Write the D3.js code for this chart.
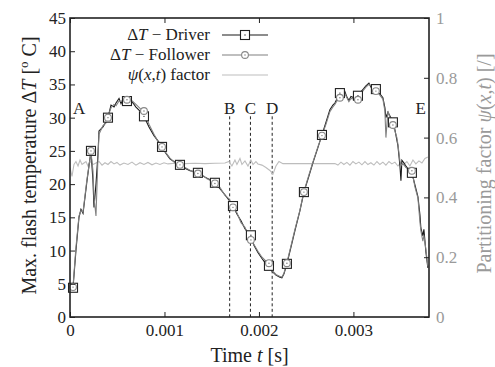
<!DOCTYPE html>
<html><head><meta charset="utf-8">
<script src="https://cdn.jsdelivr.net/npm/d3@7/dist/d3.min.js"></script>
<style>
html,body{margin:0;padding:0;background:#fff;}
svg{display:block;}
text{font-family:"Liberation Serif","DejaVu Serif",serif;}
</style></head>
<body>
<svg id="chart" width="495" height="367"></svg>
<script>
// ---------- DATA ----------
// dense time grid (milliseconds) shared by driver & follower curves
const curveTimeMs = [0.032,0.063,0.095,0.116,0.138,0.180,0.222,0.243,0.254,0.275,0.296,0.307,0.349,0.381,0.402,0.434,0.466,0.487,0.519,0.540,0.571,0.603,0.624,0.667,0.698,0.741,0.783,0.836,0.889,0.931,0.974,1.016,1.058,1.111,1.164,1.217,1.270,1.312,1.354,1.407,1.450,1.492,1.534,1.587,1.640,1.683,1.725,1.767,1.810,1.852,1.884,1.915,1.947,1.989,2.032,2.074,2.106,2.138,2.180,2.222,2.243,2.265,2.296,2.339,2.381,2.434,2.476,2.529,2.571,2.624,2.667,2.709,2.751,2.783,2.804,2.825,2.857,2.889,2.910,2.931,2.952,2.974,3.005,3.048,3.079,3.111,3.132,3.164,3.185,3.217,3.249,3.280,3.312,3.333,3.344,3.365,3.397,3.418,3.439,3.460,3.471,3.481,3.492,3.503,3.513,3.534,3.556,3.587,3.619,3.651,3.683,3.704,3.714,3.735,3.746,3.767,3.788];
const driverT = [4.4,10.0,15.0,16.2,15.6,20.5,25.0,20.5,16.5,20.0,24.5,28.0,28.6,29.4,30.0,31.9,31.6,32.2,32.9,32.1,33.0,32.5,32.8,32.2,31.6,31.0,30.2,28.6,27.3,26.5,25.6,24.6,23.8,23.3,22.9,22.4,22.0,21.9,21.7,21.2,20.9,20.6,20.2,19.3,18.4,17.6,16.7,15.5,14.5,13.3,12.7,12.2,10.8,9.7,8.8,8.0,7.7,6.9,6.3,6.0,5.9,6.5,8.0,10.5,13.0,16.0,18.8,21.2,23.2,25.5,27.4,29.3,31.2,31.9,32.2,32.8,33.7,33.5,33.9,33.1,32.6,33.2,33.0,33.3,33.9,34.4,34.8,35.2,34.6,34.3,34.2,33.6,33.0,31.5,30.0,30.8,30.0,29.3,28.2,26.6,25.8,24.4,22.8,20.5,23.6,23.2,22.7,22.1,21.7,19.9,18.1,15.4,13.4,12.2,13.2,9.8,7.4];
const followerT = [4.6,10.5,15.2,16.0,15.8,20.8,24.8,22.0,18.0,15.2,24.0,27.5,28.8,29.2,30.2,31.5,32.0,31.8,32.5,32.4,32.8,32.7,32.9,32.4,32.0,31.4,31.0,29.0,27.5,26.4,25.5,24.7,23.9,23.2,22.8,22.5,22.1,21.8,21.6,21.3,20.8,20.5,20.1,19.5,18.3,17.8,16.4,15.7,14.2,13.5,12.4,11.6,10.9,9.9,9.0,8.4,8.1,7.0,6.4,6.1,6.0,6.6,8.2,10.7,13.2,16.1,18.9,21.4,23.3,25.6,27.3,29.0,30.9,31.6,32.0,32.5,33.0,33.4,33.6,33.0,32.4,32.9,32.8,32.7,33.6,34.2,34.6,35.0,34.8,34.1,34.0,33.4,32.8,31.0,27.0,31.0,29.6,28.9,28.0,27.0,26.0,24.8,23.5,22.8,23.0,22.9,22.5,22.3,22.0,19.6,17.9,14.3,13.0,11.4,12.3,10.2,7.6];

// marker samples
const markerTimeMs = [0.032,0.222,0.402,0.603,0.783,0.974,1.164,1.354,1.534,1.725,1.915,2.106,2.296,2.476,2.667,2.857,3.048,3.238,3.418,3.619];
const driverMarkers = [4.4,25.0,30.0,32.5,30.2,25.6,22.9,21.7,20.2,16.7,12.3,7.7,8.0,18.8,27.4,33.7,33.3,34.3,29.3,21.7];
const followerMarkers = [4.5,25.0,30.0,32.7,31.0,25.6,22.9,21.6,20.1,16.5,11.6,8.1,8.1,18.8,27.3,33.0,32.7,34.0,28.9,22.0];

// partitioning factor psi(x,t)
const psiTimeMs = [0.000,0.021,0.042,0.063,0.085,0.106,0.127,0.148,0.169,0.190,0.212,0.243,0.275,0.307,0.339,0.370,0.402,0.434,0.466,0.497,0.529,0.571,0.614,0.656,0.698,0.741,0.783,0.825,0.868,0.910,0.952,0.995,1.037,1.111,1.217,1.323,1.429,1.534,1.640,1.683,1.714,1.746,1.767,1.799,1.820,1.852,1.884,1.915,1.937,1.968,1.989,2.032,2.074,2.116,2.148,2.180,2.212,2.254,2.381,2.540,2.698,2.804,2.836,2.868,2.899,2.931,2.963,2.995,3.026,3.058,3.090,3.122,3.153,3.185,3.217,3.249,3.280,3.312,3.344,3.376,3.407,3.439,3.471,3.503,3.534,3.566,3.598,3.630,3.661,3.693,3.725,3.757,3.788];
const psiValues = [0.50,0.47,0.51,0.52,0.505,0.525,0.51,0.515,0.52,0.505,0.52,0.51,0.515,0.52,0.508,0.516,0.51,0.52,0.512,0.517,0.508,0.515,0.51,0.518,0.508,0.516,0.51,0.517,0.509,0.515,0.51,0.516,0.512,0.514,0.513,0.514,0.513,0.514,0.515,0.52,0.505,0.525,0.51,0.53,0.51,0.522,0.505,0.525,0.51,0.52,0.512,0.508,0.50,0.49,0.478,0.505,0.52,0.513,0.513,0.513,0.513,0.513,0.508,0.518,0.51,0.517,0.508,0.52,0.512,0.518,0.509,0.52,0.51,0.516,0.508,0.52,0.51,0.518,0.508,0.52,0.512,0.518,0.505,0.515,0.51,0.52,0.505,0.525,0.512,0.522,0.515,0.53,0.535];

// event markers
const eventLabels = ["B","C","D"];
const eventTimes = [0.00169,0.00191,0.00214];
const cornerLabels = ["A","E"];

// axes
const xTicks = [0,0.001,0.002,0.003];
const xTickLabels = ["0","0.001","0.002","0.003"];
const yLeftTicks = [0,5,10,15,20,25,30,35,40,45];
const yRightTicks = [0,0.2,0.4,0.6,0.8,1];
const yRightTickLabels = ["0","0.2","0.4","0.6","0.8","1"];

// ---------- CHART ----------
const svg = d3.select("#chart");
const L = 70, R = 429, T = 18, B = 317;
const x = d3.scaleLinear().domain([0,0.0038]).range([L,R]);
const yL = d3.scaleLinear().domain([0,45]).range([B,T]);
const yR = d3.scaleLinear().domain([0,1]).range([B,T]);
const FS = 17, TFS = 20;

const toPts = (tms, vals) => tms.map((t,i)=>[t/1000, vals[i]]);
const driverPts = toPts(curveTimeMs, driverT);
const followerPts = toPts(curveTimeMs, followerT);
const psiPts = toPts(psiTimeMs, psiValues);

svg.append("clipPath").attr("id","pc").append("rect")
  .attr("x",L).attr("y",T).attr("width",R-L).attr("height",B-T);

const plot = svg.append("g").attr("clip-path","url(#pc)");

// dashed event lines
plot.selectAll(".ev").data(eventTimes).enter().append("line")
  .attr("x1",d=>x(d)).attr("x2",d=>x(d))
  .attr("y1",yL(30.2)).attr("y2",B)
  .attr("stroke","#222").attr("stroke-width",1).attr("stroke-dasharray","3,2.5");

// psi line
plot.append("path").datum(psiPts)
  .attr("d", d3.line().x(d=>x(d[0])).y(d=>yR(d[1])))
  .attr("fill","none").attr("stroke","#bdbdbd").attr("stroke-width",1.1);

// driver line
plot.append("path").datum(driverPts)
  .attr("d", d3.line().x(d=>x(d[0])).y(d=>yL(d[1])))
  .attr("fill","none").attr("stroke","#1a1a1a").attr("stroke-width",1.1);

// follower line
plot.append("path").datum(followerPts)
  .attr("d", d3.line().x(d=>x(d[0])).y(d=>yL(d[1])))
  .attr("fill","none").attr("stroke","#808080").attr("stroke-width",1.1);

// markers
const SQ = 9;
function square(g, cx, cy){
  g.append("rect").attr("x",cx-SQ/2).attr("y",cy-SQ/2).attr("width",SQ).attr("height",SQ)
    .attr("fill","#fff").attr("stroke","#222").attr("stroke-width",1.1);
  g.append("circle").attr("cx",cx).attr("cy",cy).attr("r",0.7).attr("fill","#333");
}
function circ(g, cx, cy){
  g.append("circle").attr("cx",cx).attr("cy",cy).attr("r",3.4)
    .attr("fill","#fff").attr("stroke","#888").attr("stroke-width",1.1);
  g.append("circle").attr("cx",cx).attr("cy",cy).attr("r",0.7).attr("fill","#777");
}
const mg = svg.append("g");
markerTimeMs.forEach((t,i)=>square(mg, x(t/1000), yL(driverMarkers[i])));
markerTimeMs.forEach((t,i)=>circ(mg, x(t/1000), yL(followerMarkers[i])));

// frame
svg.append("rect").attr("x",L).attr("y",T).attr("width",R-L).attr("height",B-T)
  .attr("fill","none").attr("stroke","#222").attr("stroke-width",1.6);

// axes
function styleAxis(g, color){
  g.select(".domain").remove();
  g.selectAll(".tick line").attr("stroke","#222").attr("stroke-width",1);
  g.selectAll(".tick text").attr("fill",color).style("font-size",FS+"px")
    .style("font-family","'Liberation Serif',serif");
}
const axB = svg.append("g").attr("transform",`translate(0,${B})`)
  .call(d3.axisBottom(x).tickValues(xTicks).tickFormat((d,i)=>xTickLabels[i]).tickSizeInner(-5).tickSizeOuter(0).tickPadding(7));
styleAxis(axB,"#222");
const axT = svg.append("g").attr("transform",`translate(0,${T})`)
  .call(d3.axisTop(x).tickValues(xTicks).tickFormat("").tickSizeInner(-5).tickSizeOuter(0));
styleAxis(axT,"#222");
const axL = svg.append("g").attr("transform",`translate(${L},0)`)
  .call(d3.axisLeft(yL).tickValues(yLeftTicks).tickFormat(d3.format("d")).tickSizeInner(-5).tickSizeOuter(0).tickPadding(4));
styleAxis(axL,"#222");
const axR = svg.append("g").attr("transform",`translate(${R},0)`)
  .call(d3.axisRight(yR).tickValues(yRightTicks).tickFormat((d,i)=>yRightTickLabels[i]).tickSizeInner(-5).tickSizeOuter(0).tickPadding(7));
styleAxis(axR,"#9a9a9a");

// axis titles
const xt = svg.append("text").attr("x",(L+R)/2).attr("y",362).attr("text-anchor","middle")
  .style("font-size",TFS+"px").attr("fill","#222");
xt.append("tspan").text("Time ");
xt.append("tspan").attr("font-style","italic").text("t");
xt.append("tspan").text(" [s]");

const ylt = svg.append("text").attr("transform",`translate(36,${(T+B)/2-2}) rotate(-90)`)
  .attr("text-anchor","middle").style("font-size",TFS+"px").attr("fill","#222");
ylt.append("tspan").text("Max. flash temperature Δ");
ylt.append("tspan").attr("font-style","italic").text("T");
ylt.append("tspan").text(" [");
ylt.append("tspan").attr("dy",-8).style("font-size","13px").text("o");
ylt.append("tspan").attr("dy",8).text(" C]");

const yrt = svg.append("text").attr("transform",`translate(491,${(T+B)/2-4}) rotate(-90)`)
  .attr("text-anchor","middle").style("font-size",TFS+"px").attr("fill","#9a9a9a");
yrt.append("tspan").text("Partitioning factor  ");
yrt.append("tspan").attr("font-style","italic").text("ψ");
yrt.append("tspan").text("(");
yrt.append("tspan").attr("font-style","italic").text("x");
yrt.append("tspan").text(",");
yrt.append("tspan").attr("font-style","italic").text("t");
yrt.append("tspan").text(") [/]");

// event labels
svg.selectAll(".evl").data(eventTimes).enter().append("text")
  .attr("x",d=>x(d)).attr("y",114).attr("text-anchor","middle")
  .style("font-size",FS+"px").attr("fill","#222").text((d,i)=>eventLabels[i]);
svg.append("text").attr("x",73).attr("y",114).style("font-size",FS+"px").attr("fill","#222").text(cornerLabels[0]);
svg.append("text").attr("x",426).attr("y",114).attr("text-anchor","end").style("font-size",FS+"px").attr("fill","#222").text(cornerLabels[1]);

// legend
const legX = 210, lx1 = 222, lx2 = 268, lxm = 245;
const rows = [35,55,75];
function legText(y, parts){
  const t = svg.append("text").attr("x",legX).attr("y",y+5).attr("text-anchor","end")
    .style("font-size",FS+"px").attr("fill","#222");
  parts.forEach(p=>t.append("tspan").attr("font-style",p[1]?"italic":"normal").text(p[0]));
}
legText(rows[0], [["Δ",0],["T",1],[" − Driver",0]]);
legText(rows[1], [["Δ",0],["T",1],[" − Follower",0]]);
legText(rows[2], [["ψ",1],["(",0],["x",1],[",",0],["t",1],[")  factor",0]]);
svg.append("line").attr("x1",lx1).attr("x2",lx2).attr("y1",rows[0]).attr("y2",rows[0]).attr("stroke","#1a1a1a").attr("stroke-width",1.1);
square(svg, lxm, rows[0]);
svg.append("line").attr("x1",lx1).attr("x2",lx2).attr("y1",rows[1]).attr("y2",rows[1]).attr("stroke","#808080").attr("stroke-width",1.1);
circ(svg, lxm, rows[1]);
svg.append("line").attr("x1",lx1).attr("x2",lx2).attr("y1",rows[2]).attr("y2",rows[2]).attr("stroke","#bdbdbd").attr("stroke-width",1.1);
</script>
</body></html>
